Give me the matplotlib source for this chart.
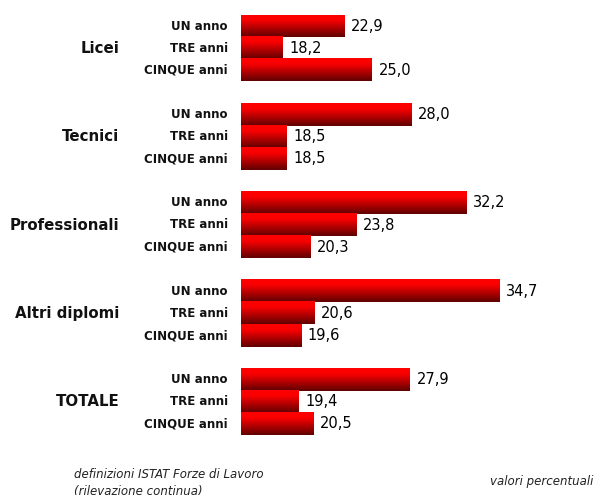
import numpy as np
import matplotlib.pyplot as plt
from matplotlib.colors import LinearSegmentedColormap

# Data
groups = ["Licei", "Tecnici", "Professionali", "Altri diplomi", "TOTALE"]
periods = ["UN anno", "TRE anni", "CINQUE anni"]
values = [
    [22.9, 18.2, 25.0],
    [28.0, 18.5, 18.5],
    [32.2, 23.8, 20.3],
    [34.7, 20.6, 19.6],
    [27.9, 19.4, 20.5],
]
x_start = 15

cmap = LinearSegmentedColormap.from_list(
    "redgrad", [(0, "#ff0000"), (0.25, "#fa0000"), (1, "#600000")])
grad = np.linspace(0, 1, 64).reshape(-1, 1)

fig = plt.figure(figsize=(5.94, 4.95), dpi=100)
ax = fig.add_axes([241 / 594, 60 / 495, 1 - 241 / 594, 420 / 495])
ax.axis("off")

for g, (grp, vals) in enumerate(zip(groups, values)):
    for j, (per, v) in enumerate(zip(periods, vals)):
        y = g * 4 + j
        ax.imshow(grad, extent=[x_start, v, y + 0.5, y - 0.5], cmap=cmap,
                  aspect="auto", interpolation="bilinear")
        ax.text(v + 0.5, y, f"{v:.1f}".replace(".", ","), va="center", ha="left",
                fontsize=10.5, color="black")
        ax.text(x_start - 1.0, y, per, va="center", ha="right", fontsize=8.5,
                fontweight="bold", color="#111111")
    ax.text(x_start - 9.3, g * 4 + 1, grp, va="center", ha="right", fontsize=10.8,
            fontweight="bold", color="#111111")

ax.set_xlim(x_start, x_start + 353 / 13.1)
ax.set_ylim(18.5, -0.5)

fig.text(74 / 594, 1 - 475 / 495, "definizioni ISTAT Forze di Lavoro", fontsize=8.5,
         style="italic", va="center", ha="left", color="#222222")
fig.text(74 / 594, 1 - 491 / 495, "(rilevazione continua)", fontsize=8.5,
         style="italic", va="center", ha="left", color="#222222")
fig.text(593 / 594, 1 - 482 / 495, "valori percentuali", fontsize=8.5,
         style="italic", va="center", ha="right", color="#222222")

fig.savefig("out.png", dpi=100)
